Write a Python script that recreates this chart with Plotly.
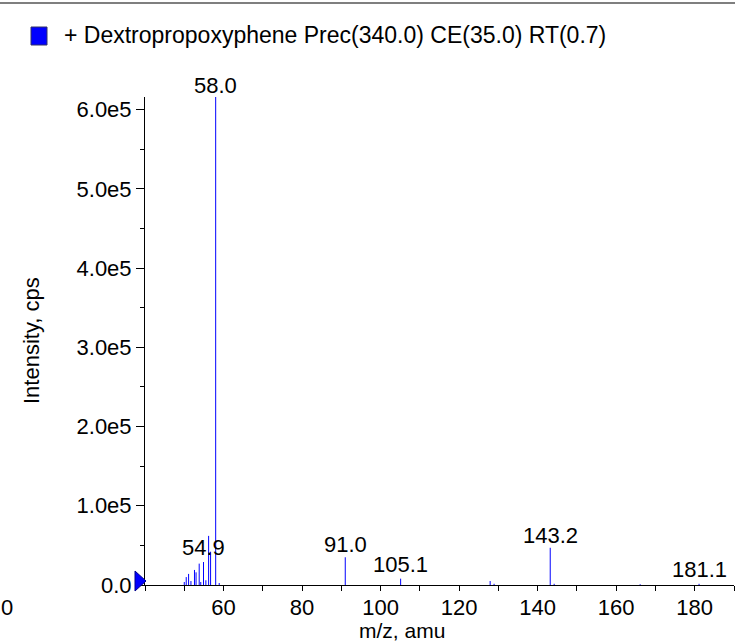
import plotly.graph_objects as go

# ---- data ----
peak_mz = [50.0, 50.5, 51.1, 51.7, 52.6, 53.0, 53.8, 54.2, 54.9, 55.5, 56.2, 56.7,
           58.0, 58.9, 91.0, 105.1, 127.9, 128.9, 143.2, 144.2, 166.1, 181.1]
peak_int = [3.8e3, 1.0e4, 1.4e4, 5.0e3, 1.9e4, 1.6e4, 2.7e4, 3.8e3, 2.9e4, 6.0e3, 6.2e4, 4.2e4,
            6.16e5, 2.5e3, 3.5e4, 8.0e3, 5.0e3, 1.5e3, 4.7e4, 1.5e3, 1.0e3, 1.5e3]
label_mz = [58.0, 54.9, 91.0, 105.1, 143.2, 181.1]
label_text = ["58.0", "54.9", "91.0", "105.1", "143.2", "181.1"]
x_tickvals = [60, 80, 100, 120, 140, 160, 180]
x_ticktext = ["60", "80", "100", "120", "140", "160", "180"]
y_tickvals = [0, 1e5, 2e5, 3e5, 4e5, 5e5, 6e5]
y_ticktext = ["0.0", "1.0e5", "2.0e5", "3.0e5", "4.0e5", "5.0e5", "6.0e5"]
title_text = "+ Dextropropoxyphene Prec(340.0) CE(35.0) RT(0.7)"

FONT = "Liberation Sans, Arial, Helvetica, sans-serif"
FS = 22
W, H = 735, 643
L, R, T, B = 145, 1, 97, 58
PW, PH = W - L - R, H - T - B

def px(xp):
    return (xp - L) / PW

def py(yp):
    return (H - B - yp) / PH

# stick spectrum
xs, ys = [], []
for m, v in zip(peak_mz, peak_int):
    xs += [m, m, None]
    ys += [0, v, None]

fig = go.Figure()
fig.add_trace(go.Scatter(x=xs, y=ys, mode="lines",
                         line=dict(color="#0000ff", width=1),
                         hoverinfo="skip", showlegend=False))

annotations = []
for m, t in zip(label_mz, label_text):
    v = peak_int[peak_mz.index(m)]
    annotations.append(dict(x=m, y=v, text=t, showarrow=False, xanchor="center",
                            yanchor="bottom", yshift=-3 if m == 58.0 else (-2 if m in (91.0, 143.2) else 0),
                            font=dict(family=FONT, size=FS, color="black")))

annotations += [
    dict(xref="paper", yref="paper", x=px(62), y=py(35), text=title_text,
         showarrow=False, xanchor="left", yanchor="middle",
         font=dict(family=FONT, size=23, color="black")),
    dict(xref="paper", yref="paper", x=px(31), y=py(341), text="Intensity, cps",
         textangle=-90, showarrow=False, xanchor="center", yanchor="middle",
         font=dict(family=FONT, size=FS, color="black")),
    dict(xref="paper", yref="paper", x=px(402), y=py(643), text="m/z, amu",
         showarrow=False, xanchor="center", yanchor="bottom", yshift=-1,
         font=dict(family=FONT, size=21, color="black")),
    dict(xref="paper", yref="paper", x=px(-1), y=py(607), text="0",
         showarrow=False, xanchor="left", yanchor="middle",
         font=dict(family=FONT, size=FS, color="black")),
]

tri = "M {a},{b} L {a},{c} L {d},{e} Z".format(
    a=px(135), b=py(571), c=py(591), d=px(146), e=py(581))

shapes = [
    # top rule
    dict(type="line", xref="paper", yref="paper", x0=px(0), x1=px(735), y0=py(3), y1=py(3),
         line=dict(color="#555555", width=1.5)),
    # legend square
    dict(type="rect", xref="paper", yref="paper", x0=px(31), x1=px(47), y0=py(45), y1=py(27),
         fillcolor="#0000ff", line=dict(color="#333366", width=1)),
    # zero marker triangle on y axis
    dict(type="path", xref="paper", yref="paper", path=tri,
         fillcolor="#0000ff", line=dict(color="#00008b", width=1)),
]

fig.update_layout(
    width=W, height=H,
    margin=dict(l=L, r=R, t=T, b=B, autoexpand=False),
    paper_bgcolor="white", plot_bgcolor="white",
    font=dict(family=FONT, size=FS, color="black"),
    showlegend=False,
    annotations=annotations,
    shapes=shapes,
    xaxis=dict(range=[40, 190], showgrid=False, zeroline=False,
               showline=True, linecolor="black", linewidth=1,
               tickmode="array", tickvals=x_tickvals, ticktext=x_ticktext,
               ticks="outside", ticklen=5, tickcolor="black", ticklabelstandoff=-2,
               minor=dict(dtick=10, tick0=0, ticks="outside", ticklen=5, tickcolor="black"),
               tickfont=dict(family=FONT, size=FS, color="black")),
    yaxis=dict(range=[0, 6.16e5], showgrid=False, zeroline=False,
               showline=True, linecolor="black", linewidth=1,
               tickmode="array", tickvals=y_tickvals, ticktext=y_ticktext,
               ticks="outside", ticklen=8, tickcolor="black",
               minor=dict(dtick=5e4, tick0=0, ticks="outside", ticklen=4, tickcolor="black"),
               tickfont=dict(family=FONT, size=FS, color="black")),
)

fig.write_html("out.html", config={"displayModeBar": False},
               post_script="document.body.style.margin='0';document.body.style.overflow='hidden';")
